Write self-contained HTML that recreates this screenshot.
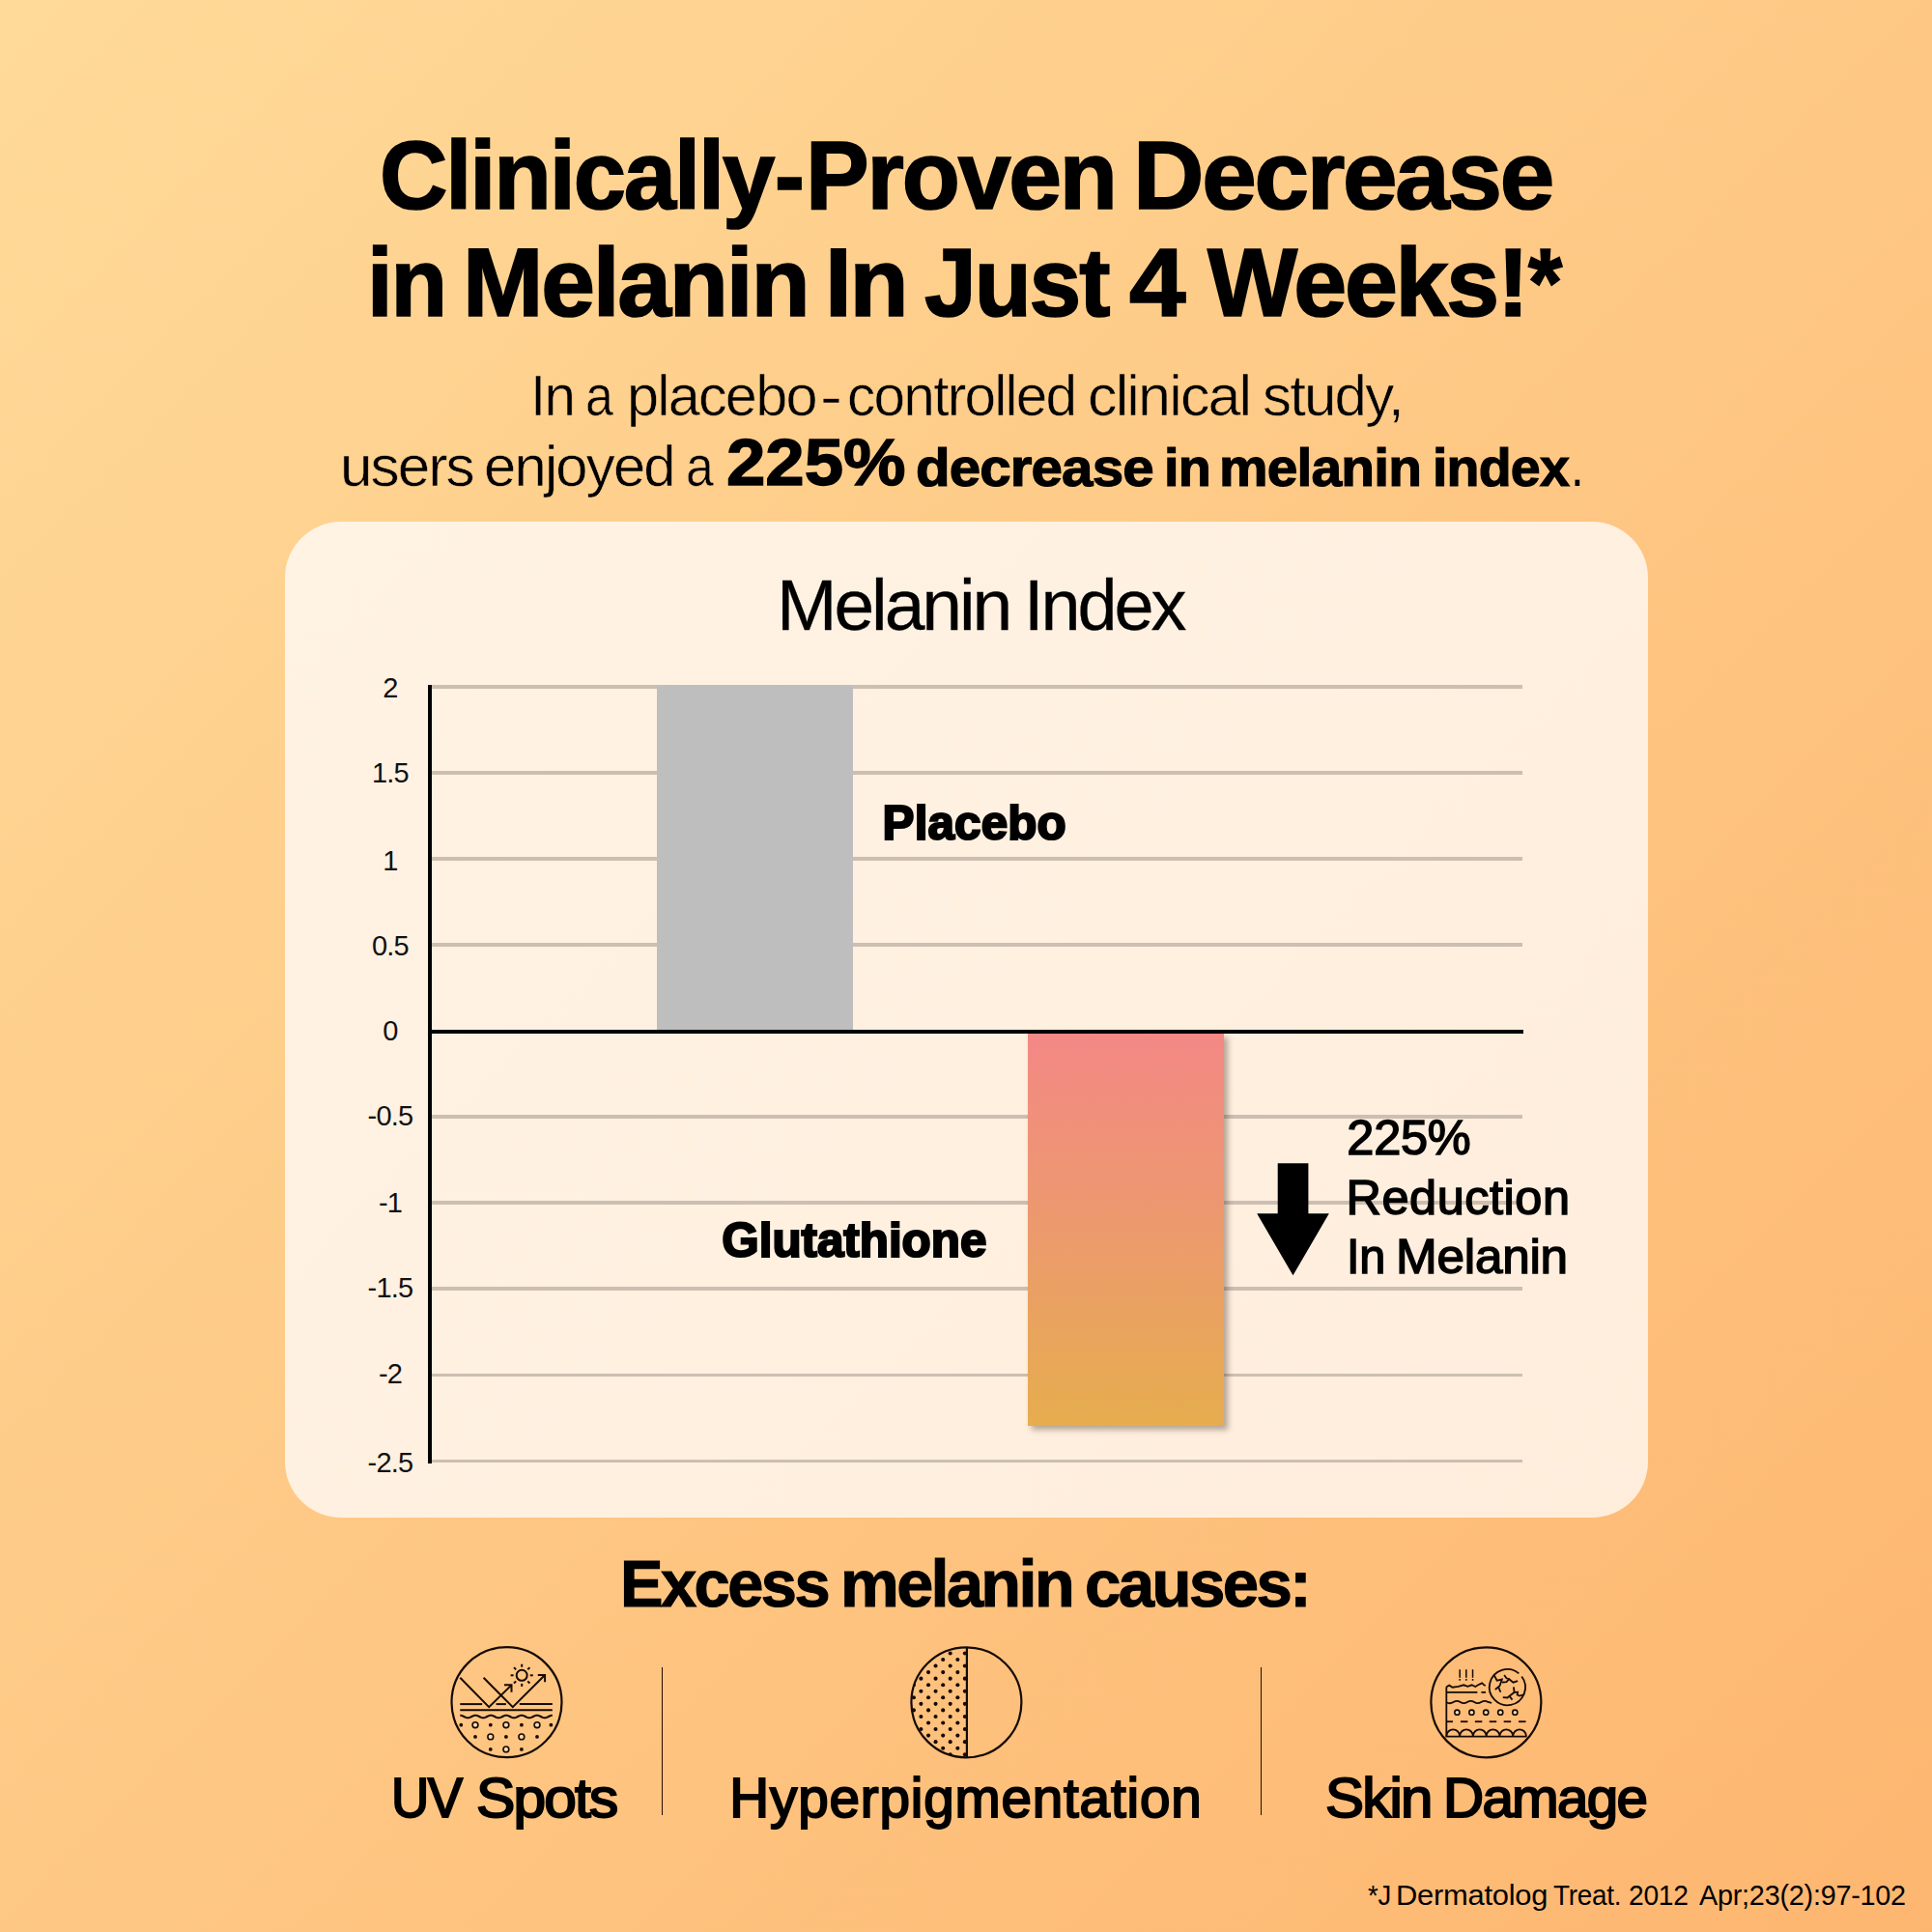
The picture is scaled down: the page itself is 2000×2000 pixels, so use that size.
<!DOCTYPE html>
<html><head><meta charset="utf-8"><title>Melanin Index</title>
<style>
html,body{margin:0;padding:0}
body{width:2000px;height:2000px;position:relative;overflow:hidden;font-family:"Liberation Sans",sans-serif;color:#000;
background:linear-gradient(135deg,#ffda99 0%,#fdb670 100%);}
.t{position:absolute;white-space:nowrap;line-height:1;font-family:"Liberation Sans",sans-serif;color:#000}
.ax{text-align:center;color:#111}
.card{position:absolute;left:294.5px;top:540px;width:1411.5px;height:1031px;border-radius:58px;
background:linear-gradient(135deg,#fff3e4 0%,#ffeddc 100%);}
.g{position:absolute;left:445px;width:1131px;height:3.8px;background:#ccbfb1}
.vax{position:absolute;left:442.9px;top:708.9px;width:4.2px;height:806px;background:#000}
.zero{position:absolute;left:443px;top:1065.8px;width:1134px;height:4.2px;background:#000}
.bar1{position:absolute;left:680px;top:709px;width:203px;height:357px;background:#bebebe}
.bar2{position:absolute;left:1064.2px;top:1069.9px;width:202.6px;height:406px;
background:linear-gradient(180deg,#f38885 0%,#ec9a6d 50%,#e6ad4e 100%);box-shadow:4px 4px 6px rgba(60,40,30,0.38)}
.div{position:absolute;top:1726.1px;width:1.3px;height:153.2px;background:#2b0a06}
svg{position:absolute;left:0;top:0}
</style></head><body>
<div class="card"></div>
<div class="g" style="top:708.85px"></div><div class="g" style="top:797.94px"></div><div class="g" style="top:887.03px"></div><div class="g" style="top:976.12px"></div><div class="g" style="top:1154.30px"></div><div class="g" style="top:1243.39px"></div><div class="g" style="top:1332.48px"></div><div class="g" style="top:1421.57px"></div><div class="g" style="top:1510.66px"></div>
<div class="bar1"></div>
<div class="vax"></div>
<div class="zero"></div>
<div class="bar2"></div>
<span class="t ax" style="left:304px;width:200px;top:698.33px;font-size:29px;letter-spacing:-0.8px">2</span><span class="t ax" style="left:304px;width:200px;top:786.03px;font-size:29px;letter-spacing:-0.8px">1.5</span><span class="t ax" style="left:304px;width:200px;top:876.83px;font-size:29px;letter-spacing:-0.8px">1</span><span class="t ax" style="left:304px;width:200px;top:965.33px;font-size:29px;letter-spacing:-0.8px">0.5</span><span class="t ax" style="left:304px;width:200px;top:1053.03px;font-size:29px;letter-spacing:-0.8px">0</span><span class="t ax" style="left:304px;width:200px;top:1140.63px;font-size:29px;letter-spacing:-0.8px">-0.5</span><span class="t ax" style="left:304px;width:200px;top:1231.03px;font-size:29px;letter-spacing:-0.8px">-1</span><span class="t ax" style="left:304px;width:200px;top:1318.83px;font-size:29px;letter-spacing:-0.8px">-1.5</span><span class="t ax" style="left:304px;width:200px;top:1408.23px;font-size:29px;letter-spacing:-0.8px">-2</span><span class="t ax" style="left:304px;width:200px;top:1500.13px;font-size:29px;letter-spacing:-0.8px">-2.5</span>
<span class="t" style="left:392.63px;top:132.07px;font-size:99.5px;font-weight:700;letter-spacing:-2.189px;-webkit-text-stroke:1.7px #000;transform:scaleX(0.9808);transform-origin:0 0;">Clinically</span><span class="t" style="left:802.36px;top:132.07px;font-size:99.5px;font-weight:700;letter-spacing:-2.189px;-webkit-text-stroke:1.7px #000;transform:scaleX(0.9296);transform-origin:0 0;">-</span><span class="t" style="left:833.61px;top:132.07px;font-size:99.5px;font-weight:700;letter-spacing:-2.189px;-webkit-text-stroke:1.7px #000;transform:scaleX(0.9895);transform-origin:0 0;">Proven</span><span class="t" style="left:1173.02px;top:132.07px;font-size:99.5px;font-weight:700;letter-spacing:-2.189px;-webkit-text-stroke:1.7px #000;transform:scaleX(1.0212);transform-origin:0 0;">Decrease</span><span class="t" style="left:379.96px;top:243.07px;font-size:99.5px;font-weight:700;letter-spacing:-2.189px;-webkit-text-stroke:1.7px #000;transform:scaleX(0.9643);transform-origin:0 0;">in</span><span class="t" style="left:478.61px;top:243.07px;font-size:99.5px;font-weight:700;letter-spacing:-2.189px;-webkit-text-stroke:1.7px #000;transform:scaleX(1.0064);transform-origin:0 0;">Melanin</span><span class="t" style="left:853.52px;top:243.07px;font-size:99.5px;font-weight:700;letter-spacing:-2.189px;-webkit-text-stroke:1.7px #000;transform:scaleX(1.0046);transform-origin:0 0;">In</span><span class="t" style="left:957.08px;top:243.07px;font-size:99.5px;font-weight:700;letter-spacing:-2.189px;-webkit-text-stroke:1.7px #000;transform:scaleX(0.9715);transform-origin:0 0;">Just</span><span class="t" style="left:1168.99px;top:243.07px;font-size:99.5px;font-weight:700;letter-spacing:-2.189px;-webkit-text-stroke:1.7px #000;transform:scaleX(1.0574);transform-origin:0 0;">4</span><span class="t" style="left:1249.55px;top:243.07px;font-size:99.5px;font-weight:700;letter-spacing:-2.189px;-webkit-text-stroke:1.7px #000;transform:scaleX(0.9917);transform-origin:0 0;">Weeks!</span><span class="t" style="left:1582.05px;top:243.07px;font-size:99.5px;font-weight:700;letter-spacing:-2.189px;-webkit-text-stroke:1.7px #000;transform:scaleX(0.9103);transform-origin:0 0;">*</span><span class="t" style="left:549.31px;top:380.05px;font-size:59.6px;font-weight:400;letter-spacing:-1.788px;-webkit-text-stroke:0.6px #fece8c;transform:scaleX(0.9781);transform-origin:0 0;">In</span><span class="t" style="left:606.16px;top:380.05px;font-size:59.6px;font-weight:400;letter-spacing:-1.788px;-webkit-text-stroke:0.6px #fece8c;transform:scaleX(0.8719);transform-origin:0 0;">a</span><span class="t" style="left:648.61px;top:380.05px;font-size:59.6px;font-weight:400;letter-spacing:-1.788px;-webkit-text-stroke:0.6px #fece8c;transform:scaleX(0.9970);transform-origin:0 0;">placebo</span><span class="t" style="left:849.29px;top:380.05px;font-size:59.6px;font-weight:400;letter-spacing:-1.788px;-webkit-text-stroke:0.6px #fece8c;transform:scaleX(1.1562);transform-origin:0 0;">-</span><span class="t" style="left:877.04px;top:380.05px;font-size:59.6px;font-weight:400;letter-spacing:-1.788px;-webkit-text-stroke:0.6px #fece8c;transform:scaleX(0.9825);transform-origin:0 0;">controlled</span><span class="t" style="left:1126.35px;top:380.05px;font-size:59.6px;font-weight:400;letter-spacing:-1.788px;-webkit-text-stroke:0.6px #fece8c;transform:scaleX(1.0231);transform-origin:0 0;">clinical</span><span class="t" style="left:1306.89px;top:380.05px;font-size:59.6px;font-weight:400;letter-spacing:-1.788px;-webkit-text-stroke:0.6px #fece8c;transform:scaleX(1.0066);transform-origin:0 0;">study,</span><span class="t" style="left:352.08px;top:453.25px;font-size:59.6px;font-weight:400;letter-spacing:-1.788px;-webkit-text-stroke:0.6px #fece8c;transform:scaleX(1.0077);transform-origin:0 0;">users</span><span class="t" style="left:501.39px;top:453.25px;font-size:59.6px;font-weight:400;letter-spacing:-1.788px;-webkit-text-stroke:0.6px #fece8c;transform:scaleX(1.0027);transform-origin:0 0;">enjoyed</span><span class="t" style="left:710.36px;top:453.25px;font-size:59.6px;font-weight:400;letter-spacing:-1.788px;-webkit-text-stroke:0.6px #fece8c;transform:scaleX(0.8687);transform-origin:0 0;">a</span><span class="t" style="left:752.18px;top:444.81px;font-size:68.5px;font-weight:700;letter-spacing:0.000px;-webkit-text-stroke:1.4px #000;transform:scaleX(1.0593);transform-origin:0 0;">225%</span><span class="t" style="left:948.12px;top:456.10px;font-size:56px;font-weight:700;letter-spacing:-0.840px;-webkit-text-stroke:1.2px #000;transform:scaleX(1.0404);transform-origin:0 0;">decrease</span><span class="t" style="left:1204.92px;top:456.10px;font-size:56px;font-weight:700;letter-spacing:-0.840px;-webkit-text-stroke:1.2px #000;transform:scaleX(0.9949);transform-origin:0 0;">in</span><span class="t" style="left:1262.25px;top:456.10px;font-size:56px;font-weight:700;letter-spacing:-0.840px;-webkit-text-stroke:1.2px #000;transform:scaleX(1.0161);transform-origin:0 0;">melanin</span><span class="t" style="left:1483.02px;top:456.10px;font-size:56px;font-weight:700;letter-spacing:-0.840px;-webkit-text-stroke:1.2px #000;transform:scaleX(0.9924);transform-origin:0 0;">index</span><span class="t" style="left:1625.56px;top:453.25px;font-size:59.6px;font-weight:400;letter-spacing:0.000px;transform:scaleX(0.8286);transform-origin:0 0;">.</span><span class="t" style="left:804.37px;top:589.56px;font-size:74px;font-weight:400;letter-spacing:-3.034px;-webkit-text-stroke:0.3px #000;transform:scaleX(1.0139);transform-origin:0 0;">Melanin</span><span class="t" style="left:1059.87px;top:589.56px;font-size:74px;font-weight:400;letter-spacing:-3.034px;-webkit-text-stroke:0.3px #000;transform:scaleX(0.9970);transform-origin:0 0;">Index</span><span class="t" style="left:913.60px;top:827.48px;font-size:49.4px;font-weight:700;letter-spacing:0.126px;-webkit-text-stroke:2.2px #000;">Placebo</span><span class="t" style="left:747.30px;top:1258.58px;font-size:49.4px;font-weight:700;letter-spacing:-0.030px;-webkit-text-stroke:2.2px #000;">Glutathione</span><span class="t" style="left:1394.35px;top:1153.05px;font-size:50.5px;font-weight:400;letter-spacing:-0.286px;-webkit-text-stroke:1.5px #000;">225%</span><span class="t" style="left:1393.45px;top:1214.65px;font-size:50.5px;font-weight:400;letter-spacing:0.523px;-webkit-text-stroke:1.5px #000;">Reduction</span><span class="t" style="left:1393.60px;top:1276.45px;font-size:50.5px;font-weight:400;letter-spacing:-0.253px;-webkit-text-stroke:1.5px #000;transform:scaleX(0.9633);transform-origin:0 0;">In</span><span class="t" style="left:1444.69px;top:1276.45px;font-size:50.5px;font-weight:400;letter-spacing:-0.253px;-webkit-text-stroke:1.5px #000;transform:scaleX(1.0158);transform-origin:0 0;">Melanin</span><span class="t" style="left:642.24px;top:1604.98px;font-size:68.3px;font-weight:700;letter-spacing:-2.595px;-webkit-text-stroke:1.1px #000;transform:scaleX(0.9778);transform-origin:0 0;">Excess</span><span class="t" style="left:869.55px;top:1604.98px;font-size:68.3px;font-weight:700;letter-spacing:-2.595px;-webkit-text-stroke:1.1px #000;transform:scaleX(1.0005);transform-origin:0 0;">melanin</span><span class="t" style="left:1122.88px;top:1604.98px;font-size:68.3px;font-weight:700;letter-spacing:-2.595px;-webkit-text-stroke:1.1px #000;transform:scaleX(0.9828);transform-origin:0 0;">causes:</span><span class="t" style="left:404.55px;top:1834.39px;font-size:56.6px;font-weight:400;letter-spacing:-1.698px;-webkit-text-stroke:2.0px #000;transform:scaleX(0.9621);transform-origin:0 0;">UV</span><span class="t" style="left:492.76px;top:1834.39px;font-size:56.6px;font-weight:400;letter-spacing:-1.698px;-webkit-text-stroke:2.0px #000;transform:scaleX(1.0681);transform-origin:0 0;">Spots</span><span class="t" style="left:755.30px;top:1834.39px;font-size:56.6px;font-weight:400;letter-spacing:0.835px;-webkit-text-stroke:2.0px #000;">Hyperpigmentation</span><span class="t" style="left:1371.58px;top:1834.39px;font-size:56.6px;font-weight:400;letter-spacing:-1.698px;-webkit-text-stroke:2.0px #000;transform:scaleX(1.0600);transform-origin:0 0;">Skin</span><span class="t" style="left:1494.37px;top:1834.39px;font-size:56.6px;font-weight:400;letter-spacing:-1.698px;-webkit-text-stroke:2.0px #000;transform:scaleX(1.0314);transform-origin:0 0;">Damage</span><span class="t" style="left:1415.50px;top:1947.75px;font-size:29px;font-weight:400;letter-spacing:-0.232px;transform:scaleX(0.9479);transform-origin:0 0;">*J</span><span class="t" style="left:1445.47px;top:1947.75px;font-size:29px;font-weight:400;letter-spacing:-0.232px;transform:scaleX(1.0651);transform-origin:0 0;">Dermatolog</span><span class="t" style="left:1608.40px;top:1947.75px;font-size:29px;font-weight:400;letter-spacing:-0.232px;transform:scaleX(0.9601);transform-origin:0 0;">Treat.</span><span class="t" style="left:1686.13px;top:1947.75px;font-size:29px;font-weight:400;letter-spacing:-0.232px;transform:scaleX(0.9710);transform-origin:0 0;">2012</span><span class="t" style="left:1758.80px;top:1947.75px;font-size:29px;font-weight:400;letter-spacing:-0.232px;transform:scaleX(0.9924);transform-origin:0 0;">Apr;23(2):97-102</span>
<div class="div" style="left:684.85px"></div>
<div class="div" style="left:1304.85px"></div>
<svg width="2000" height="2000" viewBox="0 0 2000 2000">
<path d="M1322.7 1204.3H1354.4V1256.3H1375.8L1338.5 1320.3L1301.2 1256.3H1322.7Z" fill="#000"/>
<circle cx="524.5" cy="1762.2" r="57" fill="none" stroke="#160a06" stroke-width="2.2"/><g fill="none" stroke="#160a06" stroke-width="2" stroke-linecap="butt" stroke-linejoin="miter"><path d="M476.3 1764.1H499.2"/><path d="M513.6 1764.1H523.9"/><path d="M537.8 1764.1H571.8"/><path d="M476.3 1770.2H571.8"/><path d="M476.30 1775.75L477.30 1775.85L478.29 1776.12L479.29 1776.52L480.28 1777.00L481.28 1777.48L482.27 1777.88L483.26 1778.15L484.26 1778.25L485.25 1778.15L486.25 1777.88L487.25 1777.48L488.24 1777.00L489.24 1776.52L490.23 1776.12L491.23 1775.85L492.22 1775.75L493.22 1775.85L494.21 1776.12L495.21 1776.52L496.20 1777.00L497.19 1777.48L498.19 1777.88L499.19 1778.15L500.18 1778.25L501.18 1778.15L502.17 1777.88L503.17 1777.48L504.16 1777.00L505.16 1776.52L506.15 1776.12L507.14 1775.85L508.14 1775.75L509.13 1775.85L510.13 1776.12L511.12 1776.52L512.12 1777.00L513.12 1777.48L514.11 1777.88L515.11 1778.15L516.10 1778.25L517.10 1778.15L518.09 1777.88L519.09 1777.48L520.08 1777.00L521.08 1776.52L522.07 1776.12L523.07 1775.85L524.06 1775.75L525.06 1775.85L526.05 1776.12L527.04 1776.52L528.04 1777.00L529.03 1777.48L530.03 1777.88L531.02 1778.15L532.02 1778.25L533.01 1778.15L534.01 1777.88L535.00 1777.48L536.00 1777.00L537.00 1776.52L537.99 1776.12L538.99 1775.85L539.98 1775.75L540.98 1775.85L541.97 1776.12L542.97 1776.52L543.96 1777.00L544.96 1777.48L545.95 1777.88L546.95 1778.15L547.94 1778.25L548.94 1778.15L549.93 1777.88L550.92 1777.48L551.92 1777.00L552.91 1776.52L553.91 1776.12L554.90 1775.85L555.90 1775.75L556.89 1775.85L557.89 1776.12L558.88 1776.52L559.88 1777.00L560.88 1777.48L561.87 1777.88L562.87 1778.15L563.86 1778.25L564.86 1778.15L565.85 1777.88L566.85 1777.48L567.84 1777.00L568.84 1776.52L569.83 1776.12L570.83 1775.85L571.82 1775.75"/><path d="M476.3 1736.8L506.2 1767.1L529.2 1744.6"/><path d="M522 1744.3H529.5V1751.8"/><path d="M500.6 1736.8L530.8 1767.1L563.8 1734.2"/><path d="M556.8 1733.9H564.1V1741.2"/><circle cx="540.2" cy="1734.3" r="5.5"/><path d="M548.80 1734.30L551.80 1734.30"/><path d="M546.28 1740.38L548.40 1742.50"/><path d="M540.20 1742.90L540.20 1745.90"/><path d="M534.12 1740.38L532.00 1742.50"/><path d="M531.60 1734.30L528.60 1734.30"/><path d="M534.12 1728.22L532.00 1726.10"/><path d="M540.20 1725.70L540.20 1722.70"/><path d="M546.28 1728.22L548.40 1726.10"/></g><circle cx="477.3" cy="1785.7" r="1.9" fill="#160a06"/><circle cx="492" cy="1785.7" r="2.9" fill="#f7dcae" stroke="#160a06" stroke-width="1.6"/><circle cx="507.8" cy="1785.7" r="1.9" fill="#160a06"/><circle cx="523.9" cy="1785.7" r="2.9" fill="#f7dcae" stroke="#160a06" stroke-width="1.6"/><circle cx="539.9" cy="1785.7" r="1.9" fill="#160a06"/><circle cx="556" cy="1785.7" r="2.9" fill="#f7dcae" stroke="#160a06" stroke-width="1.6"/><circle cx="570.4" cy="1785.7" r="1.9" fill="#160a06"/><circle cx="492" cy="1797.9" r="1.9" fill="#160a06"/><circle cx="507.8" cy="1797.9" r="2.9" fill="#f7dcae" stroke="#160a06" stroke-width="1.6"/><circle cx="523.9" cy="1797.9" r="1.9" fill="#160a06"/><circle cx="539.9" cy="1797.9" r="2.9" fill="#f7dcae" stroke="#160a06" stroke-width="1.6"/><circle cx="556" cy="1797.9" r="1.9" fill="#160a06"/><circle cx="507.8" cy="1810.9" r="1.9" fill="#160a06"/><circle cx="523.9" cy="1810.9" r="2.9" fill="#f7dcae" stroke="#160a06" stroke-width="1.6"/><circle cx="539.9" cy="1810.9" r="1.9" fill="#160a06"/>
<defs><clipPath id="hc"><path d="M1000.9 1705.3A57 57 0 0 0 1000.9 1819.3Z"/></clipPath></defs><g clip-path="url(#hc)" fill="#160a06"><circle cx="915.60" cy="1691.80" r="2.05"/><circle cx="930.75" cy="1691.80" r="2.05"/><circle cx="945.90" cy="1691.80" r="2.05"/><circle cx="961.05" cy="1691.80" r="2.05"/><circle cx="976.20" cy="1691.80" r="2.05"/><circle cx="991.35" cy="1691.80" r="2.05"/><circle cx="1006.50" cy="1691.80" r="2.05"/><circle cx="1021.65" cy="1691.80" r="2.05"/><circle cx="923.10" cy="1698.35" r="2.05"/><circle cx="938.25" cy="1698.35" r="2.05"/><circle cx="953.40" cy="1698.35" r="2.05"/><circle cx="968.55" cy="1698.35" r="2.05"/><circle cx="983.70" cy="1698.35" r="2.05"/><circle cx="998.85" cy="1698.35" r="2.05"/><circle cx="1014.00" cy="1698.35" r="2.05"/><circle cx="1029.15" cy="1698.35" r="2.05"/><circle cx="915.60" cy="1704.90" r="2.05"/><circle cx="930.75" cy="1704.90" r="2.05"/><circle cx="945.90" cy="1704.90" r="2.05"/><circle cx="961.05" cy="1704.90" r="2.05"/><circle cx="976.20" cy="1704.90" r="2.05"/><circle cx="991.35" cy="1704.90" r="2.05"/><circle cx="1006.50" cy="1704.90" r="2.05"/><circle cx="1021.65" cy="1704.90" r="2.05"/><circle cx="923.10" cy="1711.45" r="2.05"/><circle cx="938.25" cy="1711.45" r="2.05"/><circle cx="953.40" cy="1711.45" r="2.05"/><circle cx="968.55" cy="1711.45" r="2.05"/><circle cx="983.70" cy="1711.45" r="2.05"/><circle cx="998.85" cy="1711.45" r="2.05"/><circle cx="1014.00" cy="1711.45" r="2.05"/><circle cx="1029.15" cy="1711.45" r="2.05"/><circle cx="915.60" cy="1718.00" r="2.05"/><circle cx="930.75" cy="1718.00" r="2.05"/><circle cx="945.90" cy="1718.00" r="2.05"/><circle cx="961.05" cy="1718.00" r="2.05"/><circle cx="976.20" cy="1718.00" r="2.05"/><circle cx="991.35" cy="1718.00" r="2.05"/><circle cx="1006.50" cy="1718.00" r="2.05"/><circle cx="1021.65" cy="1718.00" r="2.05"/><circle cx="923.10" cy="1724.55" r="2.05"/><circle cx="938.25" cy="1724.55" r="2.05"/><circle cx="953.40" cy="1724.55" r="2.05"/><circle cx="968.55" cy="1724.55" r="2.05"/><circle cx="983.70" cy="1724.55" r="2.05"/><circle cx="998.85" cy="1724.55" r="2.05"/><circle cx="1014.00" cy="1724.55" r="2.05"/><circle cx="1029.15" cy="1724.55" r="2.05"/><circle cx="915.60" cy="1731.10" r="2.05"/><circle cx="930.75" cy="1731.10" r="2.05"/><circle cx="945.90" cy="1731.10" r="2.05"/><circle cx="961.05" cy="1731.10" r="2.05"/><circle cx="976.20" cy="1731.10" r="2.05"/><circle cx="991.35" cy="1731.10" r="2.05"/><circle cx="1006.50" cy="1731.10" r="2.05"/><circle cx="1021.65" cy="1731.10" r="2.05"/><circle cx="923.10" cy="1737.65" r="2.05"/><circle cx="938.25" cy="1737.65" r="2.05"/><circle cx="953.40" cy="1737.65" r="2.05"/><circle cx="968.55" cy="1737.65" r="2.05"/><circle cx="983.70" cy="1737.65" r="2.05"/><circle cx="998.85" cy="1737.65" r="2.05"/><circle cx="1014.00" cy="1737.65" r="2.05"/><circle cx="1029.15" cy="1737.65" r="2.05"/><circle cx="915.60" cy="1744.20" r="2.05"/><circle cx="930.75" cy="1744.20" r="2.05"/><circle cx="945.90" cy="1744.20" r="2.05"/><circle cx="961.05" cy="1744.20" r="2.05"/><circle cx="976.20" cy="1744.20" r="2.05"/><circle cx="991.35" cy="1744.20" r="2.05"/><circle cx="1006.50" cy="1744.20" r="2.05"/><circle cx="1021.65" cy="1744.20" r="2.05"/><circle cx="923.10" cy="1750.75" r="2.05"/><circle cx="938.25" cy="1750.75" r="2.05"/><circle cx="953.40" cy="1750.75" r="2.05"/><circle cx="968.55" cy="1750.75" r="2.05"/><circle cx="983.70" cy="1750.75" r="2.05"/><circle cx="998.85" cy="1750.75" r="2.05"/><circle cx="1014.00" cy="1750.75" r="2.05"/><circle cx="1029.15" cy="1750.75" r="2.05"/><circle cx="915.60" cy="1757.30" r="2.05"/><circle cx="930.75" cy="1757.30" r="2.05"/><circle cx="945.90" cy="1757.30" r="2.05"/><circle cx="961.05" cy="1757.30" r="2.05"/><circle cx="976.20" cy="1757.30" r="2.05"/><circle cx="991.35" cy="1757.30" r="2.05"/><circle cx="1006.50" cy="1757.30" r="2.05"/><circle cx="1021.65" cy="1757.30" r="2.05"/><circle cx="923.10" cy="1763.85" r="2.05"/><circle cx="938.25" cy="1763.85" r="2.05"/><circle cx="953.40" cy="1763.85" r="2.05"/><circle cx="968.55" cy="1763.85" r="2.05"/><circle cx="983.70" cy="1763.85" r="2.05"/><circle cx="998.85" cy="1763.85" r="2.05"/><circle cx="1014.00" cy="1763.85" r="2.05"/><circle cx="1029.15" cy="1763.85" r="2.05"/><circle cx="915.60" cy="1770.40" r="2.05"/><circle cx="930.75" cy="1770.40" r="2.05"/><circle cx="945.90" cy="1770.40" r="2.05"/><circle cx="961.05" cy="1770.40" r="2.05"/><circle cx="976.20" cy="1770.40" r="2.05"/><circle cx="991.35" cy="1770.40" r="2.05"/><circle cx="1006.50" cy="1770.40" r="2.05"/><circle cx="1021.65" cy="1770.40" r="2.05"/><circle cx="923.10" cy="1776.95" r="2.05"/><circle cx="938.25" cy="1776.95" r="2.05"/><circle cx="953.40" cy="1776.95" r="2.05"/><circle cx="968.55" cy="1776.95" r="2.05"/><circle cx="983.70" cy="1776.95" r="2.05"/><circle cx="998.85" cy="1776.95" r="2.05"/><circle cx="1014.00" cy="1776.95" r="2.05"/><circle cx="1029.15" cy="1776.95" r="2.05"/><circle cx="915.60" cy="1783.50" r="2.05"/><circle cx="930.75" cy="1783.50" r="2.05"/><circle cx="945.90" cy="1783.50" r="2.05"/><circle cx="961.05" cy="1783.50" r="2.05"/><circle cx="976.20" cy="1783.50" r="2.05"/><circle cx="991.35" cy="1783.50" r="2.05"/><circle cx="1006.50" cy="1783.50" r="2.05"/><circle cx="1021.65" cy="1783.50" r="2.05"/><circle cx="923.10" cy="1790.05" r="2.05"/><circle cx="938.25" cy="1790.05" r="2.05"/><circle cx="953.40" cy="1790.05" r="2.05"/><circle cx="968.55" cy="1790.05" r="2.05"/><circle cx="983.70" cy="1790.05" r="2.05"/><circle cx="998.85" cy="1790.05" r="2.05"/><circle cx="1014.00" cy="1790.05" r="2.05"/><circle cx="1029.15" cy="1790.05" r="2.05"/><circle cx="915.60" cy="1796.60" r="2.05"/><circle cx="930.75" cy="1796.60" r="2.05"/><circle cx="945.90" cy="1796.60" r="2.05"/><circle cx="961.05" cy="1796.60" r="2.05"/><circle cx="976.20" cy="1796.60" r="2.05"/><circle cx="991.35" cy="1796.60" r="2.05"/><circle cx="1006.50" cy="1796.60" r="2.05"/><circle cx="1021.65" cy="1796.60" r="2.05"/><circle cx="923.10" cy="1803.15" r="2.05"/><circle cx="938.25" cy="1803.15" r="2.05"/><circle cx="953.40" cy="1803.15" r="2.05"/><circle cx="968.55" cy="1803.15" r="2.05"/><circle cx="983.70" cy="1803.15" r="2.05"/><circle cx="998.85" cy="1803.15" r="2.05"/><circle cx="1014.00" cy="1803.15" r="2.05"/><circle cx="1029.15" cy="1803.15" r="2.05"/><circle cx="915.60" cy="1809.70" r="2.05"/><circle cx="930.75" cy="1809.70" r="2.05"/><circle cx="945.90" cy="1809.70" r="2.05"/><circle cx="961.05" cy="1809.70" r="2.05"/><circle cx="976.20" cy="1809.70" r="2.05"/><circle cx="991.35" cy="1809.70" r="2.05"/><circle cx="1006.50" cy="1809.70" r="2.05"/><circle cx="1021.65" cy="1809.70" r="2.05"/><circle cx="923.10" cy="1816.25" r="2.05"/><circle cx="938.25" cy="1816.25" r="2.05"/><circle cx="953.40" cy="1816.25" r="2.05"/><circle cx="968.55" cy="1816.25" r="2.05"/><circle cx="983.70" cy="1816.25" r="2.05"/><circle cx="998.85" cy="1816.25" r="2.05"/><circle cx="1014.00" cy="1816.25" r="2.05"/><circle cx="1029.15" cy="1816.25" r="2.05"/><circle cx="915.60" cy="1822.80" r="2.05"/><circle cx="930.75" cy="1822.80" r="2.05"/><circle cx="945.90" cy="1822.80" r="2.05"/><circle cx="961.05" cy="1822.80" r="2.05"/><circle cx="976.20" cy="1822.80" r="2.05"/><circle cx="991.35" cy="1822.80" r="2.05"/><circle cx="1006.50" cy="1822.80" r="2.05"/><circle cx="1021.65" cy="1822.80" r="2.05"/></g><circle cx="1000.4" cy="1762.3" r="57" fill="none" stroke="#160a06" stroke-width="2.2"/><path d="M1000.9 1705.3V1819.3" stroke="#160a06" stroke-width="2.2"/>
<circle cx="1538.4" cy="1762.3" r="57" fill="none" stroke="#160a06" stroke-width="2.2"/><g fill="none" stroke="#160a06" stroke-width="1.8" stroke-linejoin="miter"><path stroke-width="1.5" d="M1511.21 1728.26V1736.65M1511.21 1737.95V1739.82"/><path stroke-width="1.5" d="M1517.83 1728.26V1736.65M1517.83 1737.95V1739.82"/><path stroke-width="1.5" d="M1524.54 1728.26V1736.65M1524.54 1737.95V1739.82"/><path d="M1497.33 1746.34V1797.58H1580.44"/><path d="M1497.33 1746.34L1500.31 1744.66L1503.57 1746.71L1509.63 1745.96L1515.22 1744.29L1519.41 1745.78L1523.60 1744.29L1527.33 1745.96L1530.13 1744.29L1532.46 1743.17L1534.32 1742.24L1536.18 1744.29L1537.77 1744.85"/><path d="M1497.33 1751.93H1529.38M1533.39 1751.93H1538.05"/><path d="M1497.33 1762.25 Q1500.93 1764.33 1504.53 1761.99 T1511.72 1761.99 T1518.92 1761.99 T1526.11 1761.99 T1533.31 1761.99 T1540.50 1761.99 L1544.10 1762.92"/><path d="M1497.33 1782.21H1504.04"/><path d="M1511.96 1782.21H1519.41"/><path d="M1526.87 1782.21H1534.32"/><path d="M1541.77 1782.21H1549.23"/><path d="M1556.68 1782.21H1564.13"/><path d="M1572.05 1782.21H1579.51"/><path d="M1497.33 1797.58 M1497.33 1797.58C1497.33 1788.08 1511.10 1788.08 1511.10 1797.58 M1511.10 1797.58C1511.10 1788.08 1524.88 1788.08 1524.88 1797.58 M1524.88 1797.58C1524.88 1788.08 1538.65 1788.08 1538.65 1797.58 M1538.65 1797.58C1538.65 1788.08 1552.43 1788.08 1552.43 1797.58 M1552.43 1797.58C1552.43 1788.08 1566.20 1788.08 1566.20 1797.58 M1566.20 1797.58C1566.20 1788.08 1579.97 1788.08 1579.97 1797.58"/><path d="M1575.26 1735.42A18.6 18.6 0 1 1 1572.36 1732.37"/><path d="M1546.90 1734.50L1549.69 1739.63L1554.82 1738.51L1552.49 1745.22L1547.83 1748.95"/><path d="M1551.09 1746.34L1553.42 1751.74"/><path d="M1554.82 1741.49L1559.48 1741.03L1562.27 1738.23L1566.46 1741.68L1571.12 1740.10"/><path d="M1557.15 1734.04L1559.48 1737.30L1562.27 1738.23"/><path d="M1566.93 1746.34L1567.58 1751.93L1571.12 1751.74L1570.66 1754.54L1572.99 1755.65L1578.11 1754.07"/><path d="M1567.58 1751.93L1564.13 1754.54L1560.41 1757.52L1555.75 1757.15"/><path d="M1562.74 1755.93L1565.53 1759.66"/></g><circle cx="1508.42" cy="1772.70" r="2.6" fill="#f7dcae" stroke="#160a06" stroke-width="1.6"/><circle cx="1523.42" cy="1772.70" r="2.6" fill="#f7dcae" stroke="#160a06" stroke-width="1.6"/><circle cx="1538.23" cy="1772.70" r="2.6" fill="#f7dcae" stroke="#160a06" stroke-width="1.6"/><circle cx="1553.23" cy="1772.70" r="2.6" fill="#f7dcae" stroke="#160a06" stroke-width="1.6"/><circle cx="1568.33" cy="1772.70" r="2.6" fill="#f7dcae" stroke="#160a06" stroke-width="1.6"/>
</svg>
</body></html>
